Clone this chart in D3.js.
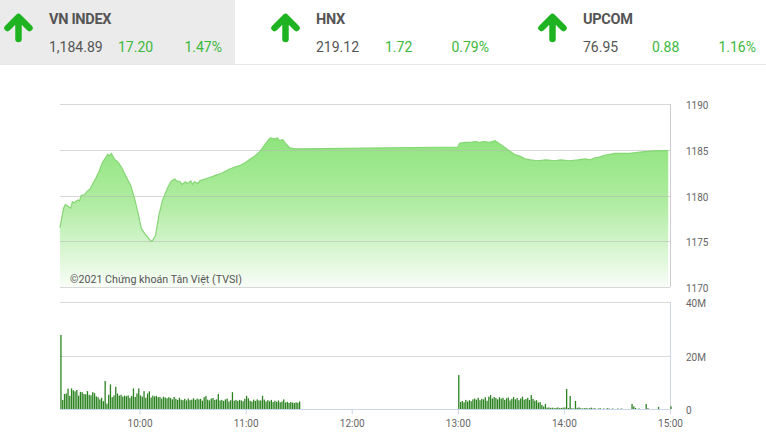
<!DOCTYPE html>
<html><head><meta charset="utf-8">
<script src="https://cdn.jsdelivr.net/npm/d3@7"></script>
<style>
body{margin:0;background:#fff;font-family:Roboto,"Noto Sans",sans-serif;}
svg{display:block}
</style></head>
<body><svg id="c" width="766" height="445"></svg>
<script>
// ---- header data ----
const indexNames = ["VN INDEX", "HNX", "UPCOM"];
const indexValues = ["1,184.89", "219.12", "76.95"];
const indexChanges = ["17.20", "1.72", "0.88"];
const indexPercents = ["1.47%", "0.79%", "1.16%"];

// ---- price data (time, VN-Index) ----
const priceTimes = ["9:15","9:17","9:18","9:19","9:21","9:22","9:23","9:25","9:26","9:27","9:29","9:30","9:32","9:33","9:35","9:37","9:39","9:41","9:42","9:43","9:44","9:46","9:47","9:48","9:50","9:52","9:55","9:57","9:59","10:01","10:03","10:04","10:06","10:07","10:08","10:09","10:11","10:13","10:16","10:18","10:20","10:21","10:23","10:24","10:26","10:27","10:29","10:30","10:31","10:33","10:34","10:37","10:40","10:43","10:46","10:48","10:51","10:54","10:57","11:00","11:02","11:05","11:08","11:11","11:13","11:14","11:16","11:18","11:19","11:21","11:23","11:25","11:28","11:30","13:00","13:01","13:04","13:07","13:10","13:12","13:15","13:18","13:21","13:24","13:27","13:29","13:32","13:35","13:38","13:41","13:45","13:50","13:55","13:58","14:03","14:08","14:12","14:15","14:17","14:20","14:23","14:26","14:29","14:33","14:37","14:43","14:49","14:55","14:59"];
const priceValues = [1176.5,1178.6,1179.0,1178.9,1178.6,1179.3,1179.2,1179.5,1179.4,1180.0,1180.1,1180.4,1180.7,1181.1,1181.8,1182.6,1183.6,1184.2,1184.5,1184.3,1184.6,1183.9,1183.8,1183.6,1183.0,1182.2,1181.1,1179.8,1178.2,1176.4,1175.8,1175.6,1175.1,1175.0,1175.3,1175.6,1177.9,1179.5,1180.9,1181.6,1181.8,1181.6,1181.5,1181.2,1181.5,1181.3,1181.6,1181.2,1181.5,1181.3,1181.6,1181.8,1182.0,1182.2,1182.4,1182.6,1182.9,1183.1,1183.3,1183.6,1183.9,1184.3,1184.8,1185.6,1186.1,1186.3,1186.2,1186.3,1186.0,1186.1,1185.6,1185.2,1185.1,1185.1,1185.3,1185.7,1185.8,1185.8,1185.9,1185.8,1185.9,1185.8,1186.0,1185.6,1185.2,1184.9,1184.5,1184.3,1184.0,1183.9,1183.8,1183.9,1183.8,1183.9,1183.8,1183.9,1184.0,1183.9,1184.1,1184.2,1184.4,1184.5,1184.6,1184.6,1184.6,1184.75,1184.85,1184.9,1184.9];

// ---- volume data (millions) per minute ----
const morningVolume = [27.7,
 3.4,5.6,5.8,7.6,4.9,7.7,7.0,6.6,7.1,
 5.0,6.4,6.3,5.6,5.5,6.7,5.3,5.1,6.3,5.9,
 4.7,4.4,3.6,4.2,2.9,10.5,2.0,5.3,9.2,4.4,
 5.1,8.3,5.8,5.0,5.3,4.6,5.0,4.8,5.1,4.2,
 4.9,7.7,4.5,5.8,7.7,5.1,4.6,6.7,4.2,5.8,
 6.6,4.3,5.0,4.7,4.9,4.4,4.5,3.9,4.6,4.3,
 4.0,4.4,4.1,3.6,4.5,3.8,3.4,4.2,3.5,3.3,
 3.8,3.2,3.9,3.3,3.5,4.0,3.4,3.9,3.6,3.8,
 3.1,4.4,4.9,3.5,3.2,3.9,4.1,3.4,3.6,5.6,
 3.2,3.4,3.0,3.6,3.9,2.8,3.3,6.3,3.1,3.4,
 3.0,3.4,3.2,2.9,3.8,4.9,4.0,3.1,2.8,3.5,
 3.0,3.6,3.2,3.2,4.9,3.5,2.8,3.3,2.9,3.4,
 2.6,3.1,2.7,3.2,2.5,2.8,3.6,2.4,2.7,2.3,
 2.6,2.4,2.2,2.5,2.3,2.8];
const afternoonVolume = [12.7,
 2.6,3.0,2.5,3.4,2.8,3.3,2.9,3.6,3.9,
 3.5,4.2,3.3,3.8,3.6,4.4,3.1,4.6,5.2,3.9,
 4.5,4.1,3.6,4.4,3.9,4.2,3.4,4.0,4.3,3.2,
 3.8,4.5,3.6,4.1,3.3,3.9,4.6,3.5,3.7,4.2,
 3.4,5.2,3.8,3.1,3.3,2.4,2.6,1.5,0.9,1.9,
 0.5,0.6,0.4,0.5,0.3,0.4,0.6,0.3,0.4,0.5,
 0.6,7.5,0.4,4.9,0.3,0.2,3.0,0.4,0.6,0.3,
 0.2,0.3,0.4,0.2,0.3,0.5,0.2,0.3,0,0.2,
 0.3,0,0.2,0,0.3,0.2,0,0.2,0,0,
 0.2,0,0.2,0,0,0,0,0,1.9,1.0,
 0.4,0,0.2,0,0,0,1.9,0.3,0,0,
 0,0,0,0.8,0,0,0,0,0,0,
 1.0];

const priceTicks = [1170,1175,1180,1185,1190];
const volumeTicks = [0,20,40];
const timeTicks = ["10:00","11:00","12:00","13:00","14:00","15:00"];

const toMin = s => { const [h,m] = s.split(":").map(Number); return h*60+m; };

const svg = d3.select("#c");

// ---- header ----
svg.append("rect").attr("x",0).attr("y",0).attr("width",235).attr("height",64).attr("fill","#ebebeb");
svg.append("line").attr("x1",0).attr("x2",766).attr("y1",64.5).attr("y2",64.5).attr("stroke","#e6e6e6");
const blockX = [0, 267, 534];
indexNames.forEach((n,i)=>{
  const g = svg.append("g").attr("transform",`translate(${blockX[i]},0)`);
  g.append("path").attr("d","M18.5,39 L18.5,18 M7.5,28 L18.5,17 L29.5,28")
    .attr("fill","none").attr("stroke","#20b321").attr("stroke-width",6.5)
    .attr("stroke-linecap","round").attr("stroke-linejoin","round");
  g.append("text").attr("x",49).attr("y",24).text(n)
    .attr("font-size",14.5).attr("font-weight","bold").attr("fill","#555").attr("letter-spacing","-0.3");
  g.append("text").attr("x",49).attr("y",52).text(indexValues[i]).attr("font-size",14).attr("fill","#555");
  g.append("text").attr("x",118).attr("y",52).text(indexChanges[i]).attr("font-size",14).attr("fill","#3cb83c");
  g.append("text").attr("x",222).attr("y",52).attr("text-anchor","end").text(indexPercents[i]).attr("font-size",14).attr("fill","#3cb83c");
});

// ---- scales ----
const x = d3.scaleLinear().domain([toMin("9:15"), toMin("15:00")]).range([60, 670]);
const yP = d3.scaleLinear().domain([1170,1190]).range([287,104]);
const yV = d3.scaleLinear().domain([0,40]).range([409,302]);

const defs = svg.append("defs");
const grad = defs.append("linearGradient").attr("id","g1").attr("gradientUnits","userSpaceOnUse")
  .attr("x1",0).attr("x2",0).attr("y1",135).attr("y2",287);
grad.append("stop").attr("offset",0).attr("stop-color","#8de47b");
grad.append("stop").attr("offset",0.45).attr("stop-color","#b0eca2");
grad.append("stop").attr("offset",1).attr("stop-color","#f8fdf7");

const pdata = priceTimes.map((t,i)=>({m:toMin(t), v:priceValues[i]}));
const area = d3.area().x(d=>x(d.m)).y0(yP(1170)).y1(d=>yP(d.v));
const line = d3.line().x(d=>x(d.m)).y(d=>yP(d.v));
svg.append("path").datum(pdata).attr("d",area).attr("fill","url(#g1)");

// price grid drawn over the area (visible through it)
priceTicks.forEach(t=>{
  svg.append("line").attr("x1",60).attr("x2",670).attr("y1",Math.round(yP(t))+0.5).attr("y2",Math.round(yP(t))+0.5)
    .attr("stroke","#b8b8b8").attr("stroke-opacity",0.55);
  svg.append("text").attr("x",686).attr("y",yP(t)+5).text(t).attr("font-size",10).attr("fill","#666");
});
svg.append("path").datum(pdata).attr("d",line).attr("fill","none").attr("stroke","#86d676").attr("stroke-width",1.2);
svg.append("line").attr("x1",670.5).attr("x2",670.5).attr("y1",104).attr("y2",287).attr("stroke","#cccccc");

svg.append("text").attr("x",70).attr("y",283).text("©2021 Chứng khoán Tân Việt (TVSI)")
  .attr("font-size",10.7).attr("fill","#555");

// ---- volume grid ----
volumeTicks.forEach(t=>{
  svg.append("line").attr("x1",60).attr("x2",670).attr("y1",Math.round(yV(t))+0.5).attr("y2",Math.round(yV(t))+0.5)
    .attr("stroke", t===0 ? "#ccd6eb" : "#d9d9d9");
  svg.append("text").attr("x",686).attr("y",yV(t)+5).text(t===0?"0":t+"M").attr("font-size",10).attr("fill","#666");
});
svg.append("line").attr("x1",670.5).attr("x2",670.5).attr("y1",302).attr("y2",409).attr("stroke","#ccd6eb");

const vdata = morningVolume.map((v,i)=>({m:toMin("9:15")+i, v}))
  .concat(afternoonVolume.map((v,i)=>({m:toMin("13:00")+i, v})))
  .filter(d=>d.v>0);
svg.append("g").selectAll("rect").data(vdata).join("rect")
  .attr("x",d=>x(d.m)+0.3).attr("width",1.3)
  .attr("y",d=>yV(d.v)).attr("height",d=>yV(0)-yV(d.v))
  .attr("fill","#2b8320");

// ---- time axis ----
const ax = d3.axisBottom(x).tickValues(timeTicks.map(toMin)).tickSize(5)
  .tickFormat(m=>timeTicks[timeTicks.map(toMin).indexOf(m)]);
const gA = svg.append("g").attr("transform","translate(0,409.5)").call(ax);
gA.select(".domain").remove();
gA.selectAll(".tick line").attr("stroke","#ccd6eb");
gA.selectAll(".tick text").attr("font-size",10).attr("fill","#666").attr("font-family","Roboto").attr("dy","0.9em");
</script></body></html>
